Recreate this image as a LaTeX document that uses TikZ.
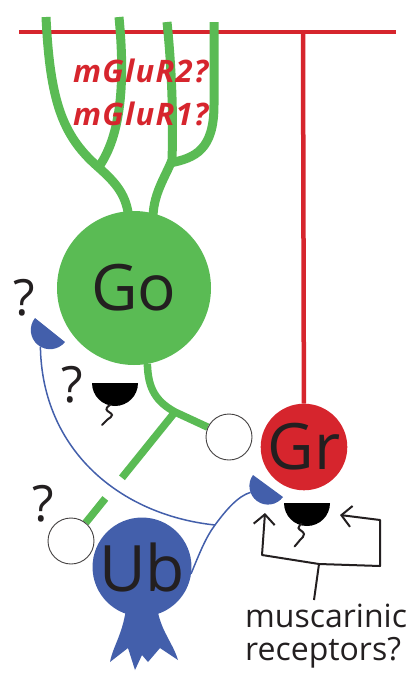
\documentclass[tikz,border=0pt]{standalone}
\usepackage{fontspec}
\setmainfont{Open Sans}
\usetikzlibrary{arrows.meta,calc,backgrounds}
\definecolor{goGreen}{RGB}{90,187,84}
\definecolor{grRed}{RGB}{214,37,45}
\definecolor{ubBlue}{RGB}{67,95,171}
\definecolor{ink}{RGB}{35,31,32}
\begin{document}
\begin{tikzpicture}[x=1pt,y=-1pt,
  cell/.style={circle, inner sep=0pt, outer sep=0pt, text=ink,
    font=\fontsize{64}{64}\selectfont},
  dendrite/.style={goGreen, line width=9pt},
  axon/.style={goGreen, line width=7.5pt},
  pf/.style={grRed, line width=4.5pt},
  bouton/.style={circle, draw=ink!85, line width=0.9pt, fill=white,
    minimum size=46pt, inner sep=0pt},
  ubaxon/.style={ubBlue, line width=1.5pt},
  qmark/.style={text=ink, font=\fontsize{50}{50}\selectfont, inner sep=0pt},
  squig/.style={ink, line width=2pt, line cap=round},
  bracket/.style={ink, line width=2pt, line join=round},
  barb/.style={-{Straight Barb[length=10pt,width=21pt,line width=2pt]}},
  mglu/.style={text=grRed, inner sep=0pt, anchor=base west,
    font=\fontsize{31}{31}\selectfont\bfseries\itshape\addfontfeatures{LetterSpace=4}},
  lbl/.style={text=ink, inner sep=0pt, anchor=base west,
    font=\fontsize{32}{32}\selectfont},
  ]
\useasboundingbox (0,0) rectangle (416,678);

% cell bodies and mossy-fibre boutons
\node[cell, fill=goGreen, minimum size=154pt] (Go) at (134,288) {Go};
\node[cell, fill=grRed, minimum size=85pt] (Gr) at (304,447) {Gr};
\node[cell, fill=ubBlue, minimum size=90pt] (Ub) at (142,567) {Ub};
\node[bouton] (b1) at (229,437) {};
\node[bouton] (b2) at (71,541) {};

\coordinate (pfL) at (19,32);
\coordinate (pfR) at (396,32);
\coordinate (pfT) at (303,32);
\coordinate (ax) at (175,412);
\coordinate (bj) at (215,525);

\begin{scope}[on background layer]
  % parallel fibre and granule cell ascending axon
  \draw[pf] (pfL) -- (pfR);
  \draw[pf] (pfT) -- (Gr);
  % Golgi cell apical dendrites
  \draw[dendrite] (46,17) .. controls (50,100) and (62,135) .. (97,166)
                  .. controls (115,182) and (128,195) .. (129,222);
  \draw[dendrite] (119,17) .. controls (125,80) and (122,135) .. (98,168);
  \draw[dendrite] (167,22) .. controls (173,80) and (173,130) .. (172,160)
                  .. controls (165,178) and (152,195) .. (153,222);
  \draw[dendrite] (214,22) -- (214,105) .. controls (214,150) and (195,158) .. (170,163);
  % Golgi cell axon
  \draw[axon] (Go.-80) .. controls (148,390) and (157,402) .. (ax) -- (b1);
  \draw[axon] (ax) -- ($(ax)!0.51!(b2)$);
  \draw[axon] ($(ax)!0.67!(b2)$) -- (b2);
  % unipolar brush dendrite
  \fill[ubBlue] (127,596) .. controls (126,630) and (113,645) .. (110,662)
     -- (128,648) -- (135,670) -- (142,655) -- (148,662) -- (160,648)
     -- (178,660) .. controls (172,640) and (157,628) .. (156,596) -- cycle;
\end{scope}

% blue terminals
\fill[ubBlue] (50,330) ++(38.66:19.2) arc[start angle=38.66, end angle=218.66, radius=19.2] -- cycle;
\coordinate (capGo) at ($(50,330)+(120:19.2)$);
\fill[ubBlue] (268,486) ++(36.25:18.6) arc[start angle=36.25, end angle=216.25, radius=18.6] -- cycle;
\coordinate (capGr) at ($(268,486)+(160:18.6)$);

% unipolar brush cell axon
\draw[ubaxon] (Ub.-8) .. controls (200,552) and (206,537) .. (bj)
              .. controls (226,510) and (238,496) .. (capGr);
\draw[ubaxon] (capGo) .. controls (42,450) and (120,515) .. (bj);

% receptors
\fill[black] (92,383) arc[start angle=180, end angle=0, radius=23] -- cycle;
\draw[squig] plot[smooth, tension=0.8] coordinates
  {(110,405) (106.5,409.5) (112,415) (107.5,419.5) (102,425)};
\fill[black] (284,503) arc[start angle=180, end angle=0, radius=23] -- cycle;
\draw[squig] plot[smooth, tension=0.8] coordinates
  {(301.5,524) (298.5,528) (304,534) (300,540) (294.5,546.5)};

% muscarinic receptor bracket
\coordinate (tipL) at (265,513);
\coordinate (cornerL) at (262,555);
\coordinate (stemTop) at (319,564);
\coordinate (cornerR) at (380,566);
\coordinate (rightTop) at (380,520);
\coordinate (tipR) at (340,515);
\coordinate (stemBot) at (314,600);
\draw[bracket, barb] (stemTop) -- (cornerL) -- (tipL);
\draw[bracket, barb] (stemTop) -- (cornerR) -- (rightTop) -- (tipR);
\draw[bracket] (stemTop) -- (stemBot);

% labels
\node[mglu] (m2) at (73,82) {mGluR2?};
\node[mglu] (m1) at (73,125) {mGluR1?};
\node[qmark] (q1) at (24,298) {?};
\node[qmark] (q2) at (72,385) {?};
\node[qmark] (q3) at (43,504) {?};
\node[lbl] (mr1) at (245,627) {muscarinic};
\node[lbl] (mr2) at (245,660) {receptors?};
\end{tikzpicture}
\end{document}
